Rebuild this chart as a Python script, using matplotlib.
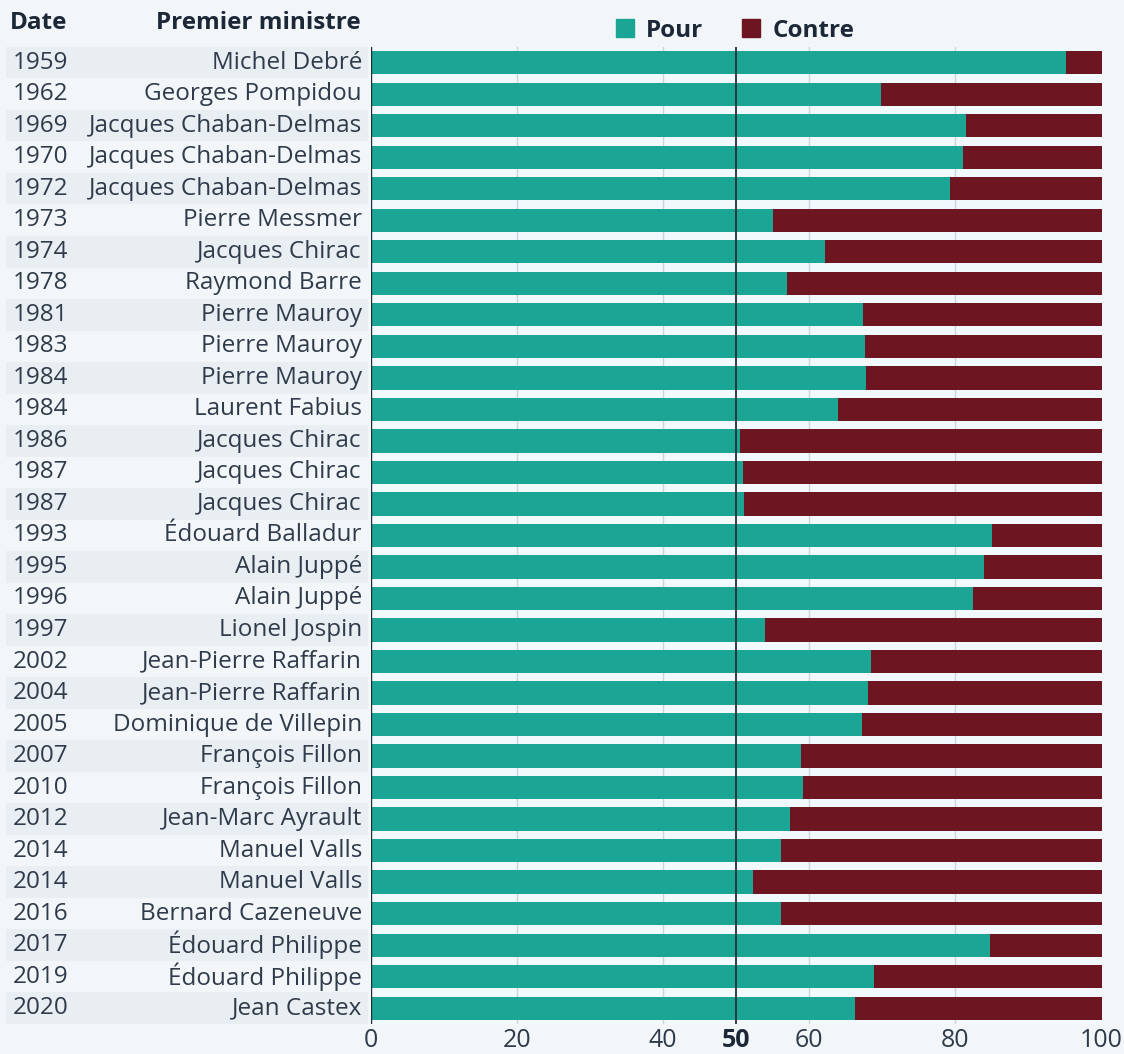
import matplotlib.pyplot as plt
import matplotlib as mpl
import matplotlib.transforms as mtransforms
from matplotlib.patches import Rectangle
import numpy as np

mpl.rcParams.update(
    {
        "font.family": ["Open Sans", "DejaVu Sans"],
        "font.size": 17.5,
    }
)

years = [
    "1959", "1962", "1969", "1970", "1972", "1973", "1974", "1978", "1981",
    "1983", "1984", "1984", "1986", "1987", "1987", "1993", "1995", "1996",
    "1997", "2002", "2004", "2005", "2007", "2010", "2012", "2014", "2014",
    "2016", "2017", "2019", "2020",
]
ministers = [
    "Michel Debré", "Georges Pompidou", "Jacques Chaban-Delmas",
    "Jacques Chaban-Delmas", "Jacques Chaban-Delmas", "Pierre Messmer",
    "Jacques Chirac", "Raymond Barre", "Pierre Mauroy", "Pierre Mauroy",
    "Pierre Mauroy", "Laurent Fabius", "Jacques Chirac", "Jacques Chirac",
    "Jacques Chirac", "Édouard Balladur", "Alain Juppé", "Alain Juppé",
    "Lionel Jospin", "Jean-Pierre Raffarin", "Jean-Pierre Raffarin",
    "Dominique de Villepin", "François Fillon", "François Fillon",
    "Jean-Marc Ayrault", "Manuel Valls", "Manuel Valls", "Bernard Cazeneuve",
    "Édouard Philippe", "Édouard Philippe", "Jean Castex",
]
pour = [
    95.1, 69.8, 81.4, 81.1, 79.3, 55.1, 62.1, 56.9, 67.3, 67.6, 67.7, 63.9,
    50.5, 50.9, 51.0, 85.0, 83.9, 82.4, 54.0, 68.4, 68.0, 67.2, 58.8, 59.1,
    57.3, 56.1, 52.3, 56.1, 84.7, 68.9, 66.2,
]
contre = [100 - p for p in pour]
xticks = [0, 20, 40, 50, 60, 80, 100]

teal = "#1ba595"
red = "#6d1520"
text_col = "#2f3b4a"
head_col = "#1c2838"
bg = "#f3f6f9"

fig = plt.figure(figsize=(11.24, 10.54), dpi=100, facecolor=bg)
ax = fig.add_axes([0.330, 0.0285, 0.650, 0.927])
ax.set_facecolor("#f1f9fc")

y = np.arange(len(years))
ax.barh(y, pour, height=0.74, color=teal, zorder=2)
ax.barh(y, contre, left=pour, height=0.74, color=red, zorder=2)

ax.set_xlim(0, 100)
ax.set_ylim(len(years) - 0.5, -0.5)
ax.set_yticks([])
ax.set_xticks(xticks)
ax.set_xticklabels([str(t) for t in xticks], fontsize=18, color=text_col)
ax.get_xticklabels()[3].set_fontweight("bold")
ax.get_xticklabels()[3].set_color(head_col)
ax.tick_params(axis="x", length=0, pad=3)
for t in [20, 40, 60, 80]:
    ax.axvline(t, color="#cdd4da", linewidth=1, zorder=1)
ax.axvline(50, color="#1f2f3a", linewidth=1.3, zorder=3)
ax.axvline(0, color="#1f2f3a", linewidth=1.0, zorder=3)
for s in ax.spines.values():
    s.set_visible(False)

# row labels and stripes on the left
trans = mtransforms.blended_transform_factory(fig.transFigure, ax.transData)
for i, (yr, name) in enumerate(zip(years, ministers)):
    if i % 2 == 0:
        fig.patches.append(
            Rectangle((0.005, i - 0.5), 0.322, 1.0, transform=trans,
                      facecolor="#e9eef3", edgecolor="none", zorder=0)
        )
    fig.text(0.011, i, yr, transform=trans, ha="left", va="center",
             color=text_col)
    fig.text(0.322, i, name, transform=trans, ha="right", va="center",
             color=text_col)

# header
fig.text(0.009, 0.978, "Date", ha="left", va="center",
         fontweight="bold", color=head_col)
fig.text(0.321, 0.978, "Premier ministre", ha="right", va="center",
         fontweight="bold", color=head_col)

handles = [Rectangle((0, 0), 1, 1, color=teal), Rectangle((0, 0), 1, 1, color=red)]
fig.legend(handles, ["Pour", "Contre"], loc="center", bbox_to_anchor=(0.654, 0.971),
           ncol=2, frameon=False, handlelength=0.75, handleheight=0.75,
           handletextpad=0.5, columnspacing=1.6,
           prop={"weight": "bold", "size": 17.5})
for t in fig.legends[0].get_texts():
    t.set_color(head_col)

fig.savefig("out.png", dpi=100, facecolor=bg)
